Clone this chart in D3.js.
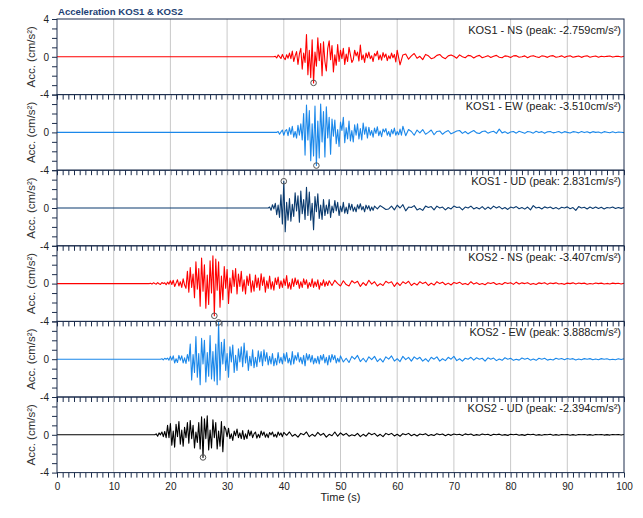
<!DOCTYPE html>
<html><head><meta charset="utf-8">
<script src="https://cdn.jsdelivr.net/npm/d3@7"></script>
<style>body{margin:0;background:#fff}svg{display:block}</style>
</head><body><svg id="c" width="643" height="518"></svg>
<script>
const title = "Acceleration KOS1 & KOS2";
const xLabel = "Time (s)";
const yLabel = "Acc. (cm/s²)";
const xTickLabels = [0,10,20,30,40,50,60,70,80,90,100];
const yTickLabels = [-4,0,4];
const seriesNames = ["KOS1 - NS","KOS1 - EW","KOS1 - UD","KOS2 - NS","KOS2 - EW","KOS2 - UD"];
const peakValues = [-2.759,-3.510,2.831,-3.407,3.888,-2.394];
const peakTimes = [45.25,45.75,40.0,27.75,28.5,25.75];
const onsetTimes = [38.5,39.0,37.5,16.5,18.5,17.5];
const strongStep = 0.25;
const codaStep = 0.5;

// strong-motion part (0.25 s samples from onset), then coda (0.5 s samples)
const kos1NS = [0.05,-0.12,0.2,0.02,-0.18,0.25,-0.1,-0.3,0.22,-0.15,
 0.4,-0.2,0.6,-0.5,0.1,0.55,-0.8,0.3,0.9,
 -1.3,0.4,-0.6,2.35,-1.9,0.7,-2.2,1.8,-2.759,0.5,-1.0,2.0,-0.4,1.4,-2.0,
 1.6,-0.5,-1.5,0.9,1.7,-0.3,1.2,-1.6,0.2,-0.9,1.3,-0.5,
 0.7,-0.2,0.9,-0.8,0.3,-0.5,1.0,0.2,-0.6,-0.3,0.7,0.1,0.5,-0.45,1.25,-0.3,0.2,-0.6,0.4,-0.1,
 0.5,-0.2,0.1,-0.5,0.35,0.1,0.6,-0.3,0.2,-0.35,0.45,-0.05,0.3,-0.4,0.1,-0.2,0.4,-0.1,0.25,-0.55];
const kos1NSCoda = [0.7,-0.85,0.2,0.3,-0.25,0.1,0.35,-0.15,0.05,-0.3,0.25,0.1,-0.2,-0.1,0.15,0.25,-0.05,-0.2,0.1,0.2,
 0.05,-0.15,0.2,0.0,-0.1,0.15,0.1,-0.12,0.05,0.15,-0.1,0.0,0.12,-0.08,0.05,0.15,-0.05,-0.1,0.1,0.05,
 -0.08,0.1,0.12,-0.05,0.0,0.1,-0.1,0.05,0.12,0.0,-0.08,0.1,0.05,-0.06,0.08,0.12,-0.04,0.0,0.1,-0.06,
 0.05,0.1,-0.05,0.02,0.08,-0.06,0.06,0.1,-0.04,0.03,0.08,-0.05,0.06,0.0,0.05,0.08,-0.03,0.04,0.06,-0.02,0.05];

const kos1EW = [0.1,-0.2,0.05,0.25,-0.3,0.15,0.3,-0.35,
 0.5,-0.2,0.65,-0.5,0.1,-0.6,0.75,-0.3,0.9,-0.8,
 2.0,-2.4,2.9,-0.8,2.3,-3.0,0.9,-2.5,2.8,-3.51,1.2,-2.7,3.0,-1.0,2.2,-2.6,2.7,-0.6,1.6,-2.3,
 1.4,-0.4,1.3,-1.2,0.3,-1.5,1.1,0.2,1.6,-1.1,0.5,-0.7,1.2,-0.9,0.2,-1.0,0.8,-0.3,0.9,-0.7,0.4,-0.8,1.0,-0.2,0.6,-0.6,
 0.55,-0.3,0.2,-0.5,0.45,-0.1,0.6,-0.35,0.15,-0.45,0.35,0.05,0.4,-0.3,0.1,-0.45,0.3,-0.15,0.45,-0.3,0.1,-0.25,0.35,-0.3];
const kos1EWCoda = [0.65,-0.35,0.3,0.1,-0.3,0.25,-0.05,0.3,-0.2,0.0,0.25,-0.25,0.1,0.15,-0.2,0.05,0.2,-0.15,0.0,0.15,
 0.2,-0.1,0.1,-0.15,0.05,0.2,-0.05,-0.12,0.1,0.15,-0.08,0.05,0.12,-0.1,0.35,-0.05,0.08,-0.12,0.05,0.1,
 -0.08,0.12,0.02,-0.1,0.1,0.05,-0.08,0.12,-0.02,0.08,-0.1,0.06,0.1,-0.05,0.02,0.1,-0.06,0.08,0.0,-0.06,
 0.08,0.04,-0.05,0.1,-0.02,0.06,-0.05,0.08,0.0,0.05,-0.06,0.08,0.02,-0.04,0.06,-0.03,0.05,0.02,-0.02];

const kos1UD = [0.1,-0.25,0.35,-0.1,0.5,-0.7,0.3,-1.0,
 1.4,-1.7,2.831,-2.5,0.6,-1.3,
 1.0,-1.4,0.4,-0.9,1.6,-0.3,1.3,-1.5,1.8,-0.6,0.9,-1.2,2.2,-0.8,1.7,-1.3,0.5,-2.3,1.2,-0.4,1.5,-1.1,0.3,-1.2,
 0.9,-0.8,0.3,-0.6,0.9,-1.0,0.2,-0.5,0.8,-0.3,0.6,-0.8,0.2,-0.4,0.6,-0.55,0.1,-0.6,0.5,-0.2,
 0.4,-0.35,0.1,-0.4,0.35,-0.1,0.45,-0.2,0.15,-0.4,0.3,-0.1,0.25,-0.3,0.1,-0.25];
const kos1UDCoda = [0.2,-0.1,0.25,0.05,-0.15,-0.1,0.2,-0.2,0.3,0.0,0.35,-0.3,0.1,0.05,0.25,-0.2,-0.05,-0.25,0.2,0.05,
 0.15,-0.2,0.2,0.0,0.1,-0.2,0.05,-0.1,0.2,0.05,0.1,-0.2,0.1,0.0,0.2,-0.1,0.05,-0.1,0.15,-0.15,
 0.1,-0.1,0.2,0.0,0.15,-0.1,0.05,-0.15,0.1,0.0,0.15,-0.08,0.05,-0.12,0.1,-0.2,0.25,0.0,0.08,-0.1,
 0.12,0.0,0.1,-0.08,0.05,-0.12,0.08,0.0,0.12,-0.08,0.05,-0.25,0.15,0.0,0.08,-0.1,0.1,-0.05,0.1,-0.06,
 0.08,-0.1,0.05,0.0,0.1,-0.06,0.06,-0.04,0.06];

const kos2NS = [0.03,-0.05,0.08,0.0,-0.06,0.1,-0.02,-0.1,0.12,0.0,0.08,-0.12,0.15,-0.05,
 0.3,-0.1,0.35,-0.3,0.05,0.4,-0.25,0.2,-0.4,0.5,-0.15,-0.5,
 1.3,-0.9,1.7,-0.4,1.0,-1.5,
 2.3,-0.6,1.6,-2.4,2.7,-0.8,2.0,-2.6,0.9,-2.2,2.4,-1.0,2.95,-3.407,2.6,-0.7,2.3,-2.5,0.8,-1.7,
 1.8,-0.5,1.5,-2.1,0.6,-1.0,1.4,-0.3,1.6,-1.1,
 1.0,-0.3,1.3,-0.8,0.4,-1.1,0.8,-0.2,1.0,-0.9,0.3,-0.8,0.9,-0.4,0.6,-0.7,1.05,-0.2,0.7,-0.9,0.3,-0.5,0.8,-0.6,0.2,-0.7,0.6,-0.1,0.7,-0.5,0.3,-0.4,
 0.5,-0.2,0.85,-0.5,0.1,-0.6,0.5,-0.3,0.6,-0.1,0.4,-0.5,0.2,-0.4,0.5,-0.1,0.4,-0.5,0.1,-0.3,0.5,-0.4,0.2,-0.3,0.4,-0.6,0.1,-0.2,0.4,-0.3,0.2,-0.2];
const kos2NSCoda = [0.3,-0.2,0.35,0.0,-0.25,0.3,-0.1,-0.25,0.3,0.05,0.25,-0.3,0.1,-0.2,0.35,-0.05,0.2,-0.25,0.0,-0.2,
 0.25,0.05,0.2,-0.3,0.1,-0.2,0.2,0.0,0.25,-0.2,0.05,-0.15,0.2,0.0,0.15,-0.2,0.05,-0.15,0.2,0.0,
 0.15,-0.12,0.05,-0.15,0.12,0.0,0.15,-0.08,0.02,-0.12,0.2,-0.05,0.1,-0.1,0.0,-0.12,0.1,0.0,0.12,-0.1,
 0.02,-0.1,0.12,0.0,0.1,-0.08,0.15,-0.05,0.08,0.0,0.1,-0.08,0.02,-0.1,0.08,0.0,0.1,-0.08,0.06,0.0,
 0.08,-0.05,0.02,-0.08,0.05,0.0,0.08,-0.05,0.06,0.0,0.05,-0.06,0.02,-0.05,0.06,0.0,0.05,-0.05,0.02,-0.04,
 0.05,0.0,0.04,-0.05,0.04];

const kos2EW = [0.05,-0.08,0.1,0.0,0.12,-0.1,
 0.3,-0.1,0.35,-0.4,0.05,-0.35,0.4,-0.1,0.35,-0.4,0.15,-0.45,0.5,-0.2,
 1.6,-2.2,0.5,-1.4,2.4,-1.9,0.6,-2.7,2.2,-0.5,2.0,-2.4,0.7,-1.8,2.5,-2.1,0.8,-2.3,
 1.6,-2.7,3.888,-2.2,
 1.8,-0.5,2.1,-1.2,0.6,-1.9,1.3,-0.3,1.5,-1.4,0.4,-1.2,
 1.1,-0.3,1.3,-0.8,1.7,-0.4,0.9,-1.2,0.3,-0.7,1.0,-0.9,0.2,-0.8,0.9,-0.3,0.8,-0.7,1.0,-0.2,0.7,-0.6,0.3,-0.5,0.6,-0.7,0.1,-0.6,0.7,-0.4,0.2,-0.5,
 0.6,-0.2,0.7,-0.4,0.1,-0.6,0.8,-0.5,0.4,-0.1,0.7,-0.3,0.2,-0.5,0.4,-0.7,0.6,-0.1,0.5,-0.3,0.4,-0.5,0.1,-0.4,0.3,-0.5,0.4,-0.1,0.5,-0.4,0.2,-0.6,0.4,-0.3,0.5,-0.05,0.4,-0.4,0.1,-0.3];
const kos2EWCoda = [0.35,-0.3,0.1,-0.35,0.3,0.0,0.4,-0.25,0.1,-0.3,0.25,-0.05,0.3,-0.25,0.05,-0.3,0.25,0.0,0.35,-0.2,
 0.05,-0.25,0.3,-0.05,0.2,-0.2,0.25,0.0,0.2,-0.2,0.05,-0.25,0.2,0.0,0.25,-0.2,0.05,-0.15,0.2,0.0,
 0.3,-0.15,0.05,-0.2,0.1,0.0,0.2,-0.1,0.15,0.0,0.1,-0.2,0.15,0.0,0.12,-0.15,0.02,-0.12,0.15,0.0,
 0.1,-0.12,0.0,-0.1,0.12,0.0,0.1,-0.1,0.02,-0.12,0.1,0.0,0.1,-0.1,0.0,-0.08,0.1,0.0,0.08,-0.06,
 0.08,0.0,0.06,-0.08,0.02,-0.06,0.06,0.0,0.06,-0.06,0.02,-0.06,0.06,0.0,0.05,-0.05,0.0,-0.05,0.05,-0.04,0.04];

const kos2UD = [0.1,-0.15,0.2,0.0,0.3,-0.2,0.35,-0.3,
 1.0,-0.3,1.2,-1.1,0.4,-1.3,1.1,-0.2,1.4,-1.0,0.5,-1.2,0.8,-0.3,1.3,-0.9,1.5,-0.4,1.0,-1.4,0.3,-0.8,
 1.3,-1.5,1.9,-2.394,1.7,-0.4,2.0,-1.6,0.5,-1.4,1.6,-0.3,1.3,-1.5,0.4,-1.2,1.4,-1.8,0.9,
 0.6,-0.2,0.7,-0.4,0.1,-0.6,0.4,-0.1,0.6,-0.3,0.2,-0.4,0.45,-0.5,0.1,-0.4,0.5,-0.1,0.4,-0.3,0.1,
 0.3,-0.35,0.05,-0.3,0.4,-0.05,0.3,-0.25,0.1,-0.3,0.25,0.0,0.3,-0.2,0.05,-0.25,0.3,-0.05,0.2,-0.2];
const kos2UDCoda = [0.25,-0.05,0.3,-0.15,0.05,-0.25,0.15,0.0,0.3,-0.2,0.05,-0.15,0.25,-0.05,0.15,-0.25,0.05,-0.1,0.3,-0.15,
 0.2,-0.05,0.15,-0.15,0.0,-0.1,0.15,-0.2,0.05,-0.15,0.2,0.0,0.15,-0.15,0.05,-0.2,0.15,0.0,0.15,-0.12,
 0.05,-0.15,0.12,0.0,0.15,-0.1,0.05,-0.12,0.08,0.0,0.12,-0.1,0.02,-0.08,0.12,0.0,0.08,-0.1,0.05,-0.06,
 0.08,0.0,0.06,-0.08,0.1,0.0,0.08,-0.08,0.02,-0.05,0.08,0.0,0.05,-0.08,0.06,0.0,0.07,-0.05,0.02,-0.06,
 0.05,0.0,0.06,-0.05,0.02,-0.06,0.05,0.0,0.05,-0.05,0.02,-0.05,0.04,0.0,0.05,-0.04,0.02,-0.05,0.04,0.0,
 0.04,-0.04,0.02,-0.04,0.04,0.0,0.04,-0.03,0.02,-0.04,0.03,0.0,0.04,-0.03,0.02,-0.03,0.03,0.0,0.03,-0.03,0.03];

const strongData = [kos1NS,kos1EW,kos1UD,kos2NS,kos2EW,kos2UD];
const codaData = [kos1NSCoda,kos1EWCoda,kos1UDCoda,kos2NSCoda,kos2EWCoda,kos2UDCoda];
const lineColors = ["#ff0000","#1b88ea","#0b3b6f","#ff0000","#1b88ea","#000000"];

const svg = d3.select("#c");
const L = 57, R = 624, T = 19, PH = 75.6;
const frameColor = "#1c2d4c";
const font = "Liberation Sans, Arial, sans-serif";
const x = d3.scaleLinear().domain([0,100]).range([L,R]);

svg.append("text").attr("x",58).attr("y",14.5)
  .attr("font-family",font).attr("font-size",9.6).attr("font-weight","bold")
  .attr("fill","#1d3f74").text(title);

seriesNames.forEach((name,i)=>{
  const top = T + i*PH;
  const y = d3.scaleLinear().domain([-4,4]).range([top+PH, top]);
  const g = svg.append("g");
  g.selectAll("line.grid").data(xTickLabels.filter(v=>v>0&&v<100)).join("line")
    .attr("x1",d=>x(d)).attr("x2",d=>x(d)).attr("y1",top).attr("y2",top+PH)
    .attr("stroke","#c9c9c9").attr("stroke-width",1);
  const s0 = onsetTimes[i];
  const pts = [[0,0],[s0 - strongStep,0]];
  strongData[i].forEach((v,j)=>pts.push([s0 + j*strongStep, v]));
  const c0 = s0 + strongData[i].length*strongStep;
  codaData[i].forEach((v,j)=>{ const t = c0 + j*codaStep; if (t<=100) pts.push([t,v]); });
  g.append("path").datum(pts)
    .attr("d", d3.line().x(d=>x(d[0])).y(d=>y(d[1])))
    .attr("fill","none").attr("stroke",lineColors[i]).attr("stroke-width",1.1).attr("stroke-linejoin","round");
  g.append("rect").attr("x",L).attr("y",top).attr("width",R-L).attr("height",PH)
    .attr("fill","none").attr("stroke",frameColor).attr("stroke-width",1);
  const shown = i===0 ? yTickLabels : yTickLabels.filter(v=>v<4);
  const ya = g.append("g").attr("transform",`translate(${L},0)`)
    .call(d3.axisLeft(y).tickValues(d3.range(-4,5)).tickSize(5).tickPadding(3)
      .tickFormat(d=>shown.includes(d)?String(d):""));
  ya.select(".domain").remove();
  ya.selectAll("line").attr("stroke",frameColor);
  ya.selectAll("text").attr("font-family",font).attr("font-size",10).attr("fill","#222");
  const last = i===seriesNames.length-1;
  const xa = g.append("g").attr("transform",`translate(0,${top+PH})`)
    .call(d3.axisBottom(x).tickValues(d3.range(0,101)).tickSize(5).tickPadding(5)
      .tickFormat(d=> last && xTickLabels.includes(d) ? String(d) : ""));
  xa.select(".domain").remove();
  xa.selectAll("line").attr("stroke",frameColor);
  xa.selectAll("text").attr("font-family",font).attr("font-size",10).attr("fill","#222");
  g.append("text").attr("transform",`translate(35,${top+PH/2}) rotate(-90)`)
    .attr("text-anchor","middle").attr("font-family",font)
    .attr("font-size",11.5).attr("fill","#333").text(yLabel);
  g.append("text").attr("x",621).attr("y",top+15).attr("text-anchor","end")
    .attr("font-family",font).attr("font-size",11).attr("fill","#222")
    .text(`${name} (peak: ${peakValues[i].toFixed(3)}cm/s²)`);
  g.append("circle").attr("cx",x(peakTimes[i])).attr("cy",y(peakValues[i]))
    .attr("r",2.8).attr("fill","none").attr("stroke","#555").attr("stroke-width",1);
});

svg.append("text").attr("x",(L+R)/2).attr("y",501).attr("text-anchor","middle")
  .attr("font-family",font).attr("font-size",11).attr("fill","#222").text(xLabel);
</script></body></html>
